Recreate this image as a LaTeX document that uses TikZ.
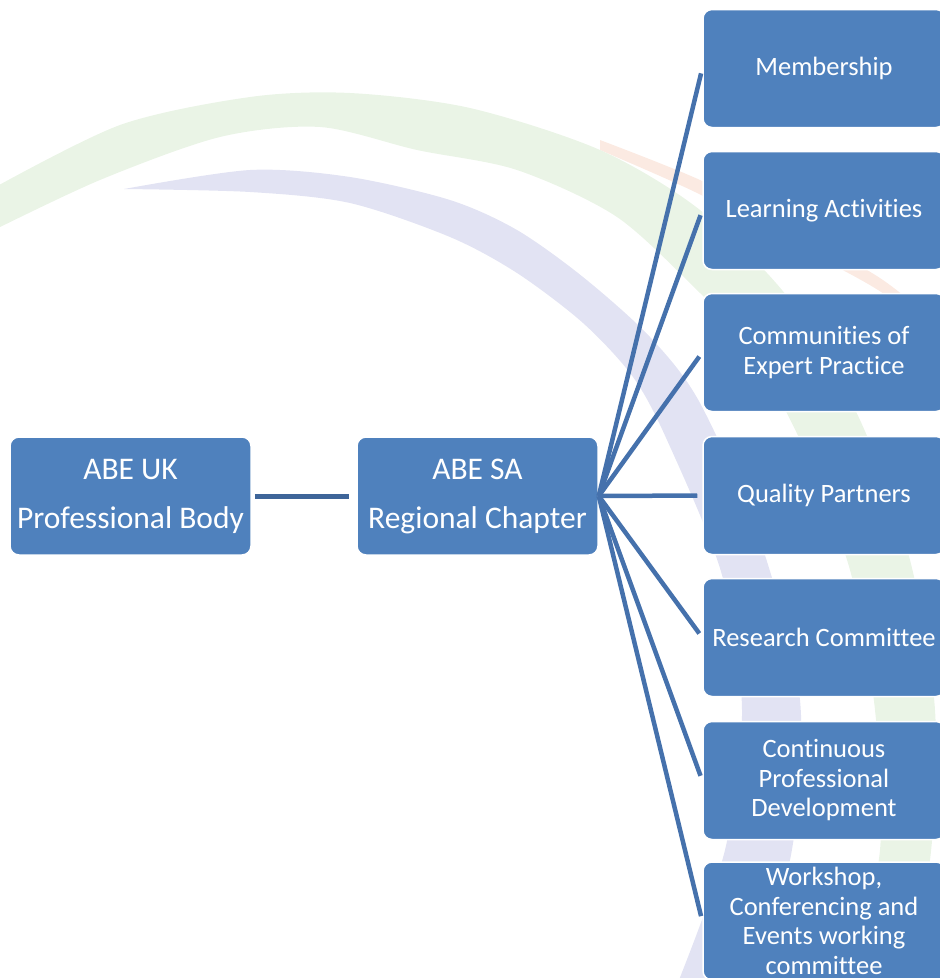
\documentclass[tikz,border=0pt]{standalone}
\usepackage{fontspec}
\setmainfont[Ligatures={NoCommon}]{Carlito}
\definecolor{boxblue}{HTML}{4F81BD}
\definecolor{fanblue}{HTML}{4571AC}
\definecolor{linkblue}{HTML}{3E6599}
\definecolor{lavender}{HTML}{E2E3F3}
\definecolor{palegreen}{HTML}{EAF4E6}
\definecolor{paleorange}{HTML}{FBEAE2}
\tikzset{
  box/.style={rectangle, rounded corners=9pt, fill=boxblue, draw=white, line width=1.5pt,
    text=white, align=center, minimum width=242pt, minimum height=118pt, inner sep=0pt,
    font=\fontsize{26.5}{29.5}\selectfont},
  bigbox/.style={box, minimum width=241pt, font=\fontsize{31.5}{49}\selectfont},
  fan/.style={draw=fanblue, line width=4.5pt, shorten >=5pt},
  link/.style={draw=linkblue, line width=5pt, shorten <=3pt, shorten >=7pt}
}
\begin{document}
\begin{tikzpicture}[x=1pt,y=-1pt]
\useasboundingbox (0,0) rectangle (940,978);
\begin{scope}
\clip (0,0) rectangle (940,978);
% background watermark arcs
\fill[paleorange] plot[smooth] coordinates {(600,140) (700,180) (790,228) (880,278) (945,330)}
  -- plot[smooth] coordinates {(945,342) (878,290) (785,240) (695,192) (600,150)} -- cycle;
\fill[palegreen] plot[smooth] coordinates {(-10,190) (120,125) (250,97) (350,93) (470,108) (600,150) (700,210) (790,300) (860,420) (910,560) (935,710) (930,860) (900,990)}
  -- plot[smooth] coordinates {(850,990) (880,850) (875,710) (850,570) (800,440) (745,340) (700,293) (617,217) (517,170) (417,150) (320,127) (220,137) (100,180) (-10,232)} -- cycle;
\fill[lavender] plot[smooth] coordinates {(124,189) (250,170) (350,177) (450,200) (517,230) (583,277) (650,337) (700,403) (760,540) (800,700) (790,860) (740,990)}
  -- plot[smooth] coordinates {(675,990) (725,850) (742,710) (722,575) (667,440) (633,377) (583,323) (517,273) (450,237) (350,203) (250,192) (124,189)} -- cycle;

% nodes
\node[bigbox] (uk) at (130.5,496) {ABE UK\\Professional Body};
\node[bigbox] (sa) at (477.5,496) {ABE SA\\Regional Chapter};
\node[box] (mem) at (824,68.5) {Membership};
\node[box] (learn) at (824,210.5) {Learning Activities};
\node[box] (comm) at (824,352.5) {Communities of\\Expert Practice};
\node[box] (qual) at (824,495.5) {Quality Partners};
\node[box] (res) at (824,637.5) {Research Committee};
\node[box] (cpd) at (824,780.5) {Continuous\\Professional\\Development};
\node[box] (work) at (824,921) {Workshop,\\Conferencing and\\Events working\\committee};

% connectors
\draw[link] (uk.east) -- (sa.west);
\foreach \t in {mem,learn,comm,qual,res,cpd,work}
  \draw[fan] (sa.east) -- (\t.west);
\end{scope}
\end{tikzpicture}
\end{document}
